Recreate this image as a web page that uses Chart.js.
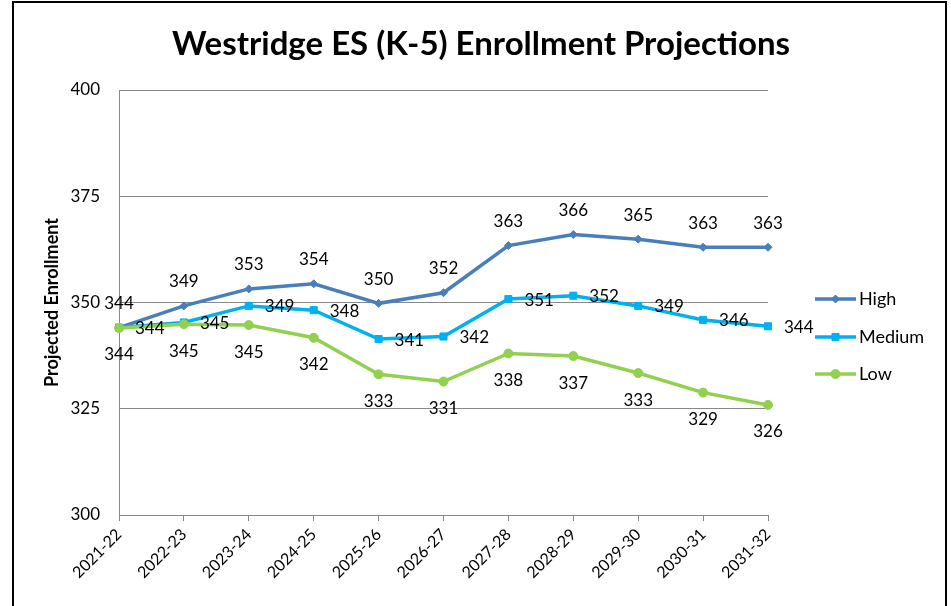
<!DOCTYPE html>
<html>
<head>
<meta charset="utf-8">
<script src="https://cdn.jsdelivr.net/npm/chart.js@4.4.1/dist/chart.umd.min.js"></script>
<style>
html,body{margin:0;padding:0;background:#fff;}
#wrap{width:951px;height:606px;position:relative;}
</style>
</head>
<body>
<div id="wrap"><canvas id="c" width="951" height="606"></canvas></div>
<script>
const chartTitle = "Westridge ES (K-5) Enrollment Projections";
const yAxisTitle = "Projected Enrollment";
const categories = ["2021-22","2022-23","2023-24","2024-25","2025-26","2026-27","2027-28","2028-29","2029-30","2030-31","2031-32"];
const seriesNames = ["High","Medium","Low"];
const highValues = [344.1, 349.2, 353.2, 354.4, 349.8, 352.3, 363.4, 366.0, 364.9, 363.0, 363.0];
const mediumValues = [344.1, 345.3, 349.2, 348.2, 341.4, 342.0, 350.8, 351.6, 349.2, 345.9, 344.4];
const lowValues = [344.0, 344.9, 344.7, 341.7, 333.1, 331.4, 338.0, 337.4, 333.4, 328.8, 325.9];
const yTicks = [300, 325, 350, 375, 400];

const FONT = "Lato, 'Open Sans', sans-serif";
const colors = ["#4A7EBB", "#00B0F0", "#92D050"];
const pointStyles = ["rectRot", "rect", "circle"];
const pointRadii = [4, 5, 4.5];
const labelPos = ["above", "right", "below"];

const framePlugin = {
  id: "frame",
  beforeDraw(chart) {
    const ctx = chart.ctx;
    ctx.save();
    ctx.fillStyle = "#fff";
    ctx.fillRect(0, 0, chart.width, chart.height);
    ctx.strokeStyle = "#000";
    ctx.lineWidth = 2;
    ctx.beginPath();
    ctx.moveTo(13, 610);
    ctx.lineTo(13, 2);
    ctx.lineTo(946, 2);
    ctx.lineTo(946, 610);
    ctx.stroke();
    ctx.fillStyle = "#000";
    ctx.font = "bold 33px " + FONT;
    ctx.textAlign = "center";
    ctx.textBaseline = "middle";
    ctx.fillText(chartTitle, 481, 44);
    ctx.restore();
  }
};

const labelsPlugin = {
  id: "pointLabels",
  afterDatasetsDraw(chart) {
    const ctx = chart.ctx;
    ctx.save();
    ctx.font = "17px " + FONT;
    ctx.fillStyle = "#000";
    chart.data.datasets.forEach((ds, i) => {
      const meta = chart.getDatasetMeta(i);
      meta.data.forEach((pt, j) => {
        const txt = String(Math.round(ds.data[j]));
        const pos = labelPos[i];
        if (pos === "above") {
          ctx.textAlign = "center"; ctx.textBaseline = "middle";
          ctx.fillText(txt, pt.x, pt.y - 24);
        } else if (pos === "below") {
          ctx.textAlign = "center"; ctx.textBaseline = "middle";
          ctx.fillText(txt, pt.x, pt.y + 27);
        } else {
          ctx.textAlign = "left"; ctx.textBaseline = "middle";
          ctx.fillText(txt, pt.x + 16, pt.y + 1);
        }
      });
    });
    // legend
    const ys = [299, 337, 374];
    chart.data.datasets.forEach((ds, i) => {
      const y = ys[i];
      ctx.strokeStyle = colors[i];
      ctx.lineWidth = 3.5;
      ctx.beginPath();
      ctx.moveTo(815, y);
      ctx.lineTo(856, y);
      ctx.stroke();
      ctx.fillStyle = colors[i];
      ctx.strokeStyle = colors[i];
      ctx.lineWidth = 1;
      Chart.helpers.drawPoint(ctx, {pointStyle: pointStyles[i], radius: pointRadii[i], borderWidth: 1, rotation: 0}, 835.5, y);
      ctx.fillStyle = "#000";
      ctx.font = "18px " + FONT;
      ctx.textAlign = "left"; ctx.textBaseline = "middle";
      ctx.fillText(ds.label, 859, y);
    });
    ctx.restore();
  }
};

const datasets = [highValues, mediumValues, lowValues].map((vals, i) => ({
  label: seriesNames[i],
  data: vals,
  borderColor: colors[i],
  backgroundColor: colors[i],
  borderWidth: 3.5,
  pointStyle: pointStyles[i],
  pointRadius: pointRadii[i],
  pointBorderWidth: 1,
  pointBorderColor: colors[i],
  pointBackgroundColor: colors[i],
  tension: 0,
  fill: false,
  order: 2 - i
}));

new Chart(document.getElementById("c"), {
  type: "line",
  data: { labels: categories, datasets: datasets },
  options: {
    responsive: false,
    animation: false,
    devicePixelRatio: 1,
    layout: { padding: { left: 41, right: 183, top: 90, bottom: 0 } },
    plugins: { legend: { display: false }, tooltip: { enabled: false }, title: { display: false } },
    scales: {
      x: {
        offset: false,
        grid: { drawOnChartArea: false, drawTicks: true, tickLength: 6, color: "#888", lineWidth: 1 },
        border: { color: "#888", width: 1 },
        ticks: { autoSkip: false, maxRotation: 45, minRotation: 45, padding: 4, color: "#000", font: { family: FONT, size: 16 } },
        afterFit(scale) { scale.height = 91; }
      },
      y: {
        min: 300, max: 400,
        afterBuildTicks(scale) { scale.ticks = yTicks.map(v => ({ value: v })); },
        grid: { color: "#888", lineWidth: 1, drawTicks: false },
        border: { color: "#888", width: 1 },
        ticks: { padding: 19, color: "#000", font: { family: FONT, size: 17 } },
        title: { display: true, text: yAxisTitle, color: "#000", font: { family: FONT, size: 18, weight: "bold" }, padding: 0 },
        afterFit(scale) { scale.width = 78; }
      }
    }
  },
  plugins: [framePlugin, labelsPlugin]
});
</script>
</body>
</html>
